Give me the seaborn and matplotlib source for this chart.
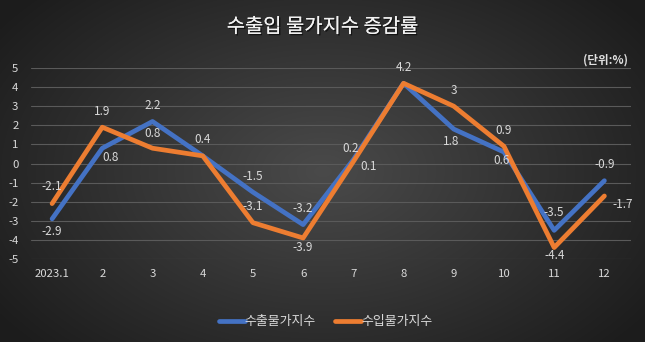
import numpy as np
import pandas as pd
import matplotlib
matplotlib.use("Agg")
import matplotlib.pyplot as plt
import matplotlib.patheffects as pe
import seaborn as sns

months = ["2023.1", "2", "3", "4", "5", "6", "7", "8", "9", "10", "11", "12"]
export_idx = [-2.9, 0.8, 2.2, 0.4, -1.5, -3.2, 0.2, 4.2, 1.8, 0.6, -3.5, -0.9]
import_idx = [-2.1, 1.9, 0.8, 0.4, -3.1, -3.9, 0.1, 4.2, 3.0, 0.9, -4.4, -1.7]
series_names = ["수출물가지수", "수입물가지수"]
yticks = [5, 4, 3, 2, 1, 0, -1, -2, -3, -4, -5]
title = "수출입 물가지수 증감률"
unit_text = "(단위:%)"

# label offsets in pixels (styling only)
exp_off = [(0, -13), (8, -9), (0, 16), (0, 16), (0, 16), (0, 16), (-3, 11),
           (0, 16), (-3, -12), (-2, -8), (0, 18), (0, 16)]
imp_off = [(0, 17), (0, 16), (0, 15), None, (0, 16), (0, -10), (15, -5),
           None, (0, 16), (0, 16), (0, -8), (18, -9)]

sns.set_theme(style="white")
plt.rcParams['font.family'] = ['Noto Sans CJK KR', 'DejaVu Sans']
plt.rcParams['axes.unicode_minus'] = False

W, H = 645, 342
fig = plt.figure(figsize=(W / 100, H / 100), dpi=100)

# radial gradient background
bg = fig.add_axes([0, 0, 1, 1], zorder=-10)
yy, xx = np.mgrid[0:H, 0:W]
r = np.sqrt(((xx - W * 0.5) / (W * 0.62)) ** 2 + ((yy - H * 0.5) / (H * 0.75)) ** 2)
r = np.clip(r, 0, 1)
c_in = np.array([0x4a, 0x4a, 0x4a]) / 255
c_out = np.array([0x1c, 0x1c, 0x1c]) / 255
img = c_in[None, None, :] * (1 - r[..., None]) + c_out[None, None, :] * r[..., None]
bg.imshow(img, aspect="auto", extent=[0, 1, 0, 1])
bg.axis("off")

ax = fig.add_axes([31 / W, 1 - 259 / H, 600 / W, 191 / H])
ax.set_facecolor("none")

df = pd.DataFrame({
    "month": months * 2,
    "value": export_idx + import_idx,
    "series": [series_names[0]] * len(months) + [series_names[1]] * len(months),
})
palette = {series_names[0]: "#4472C4", series_names[1]: "#ED7D31"}
sns.lineplot(data=df, x="month", y="value", hue="series", palette=palette,
             linewidth=3.4, ax=ax, sort=False, legend=True)

for vals, offs in [(export_idx, exp_off), (import_idx, imp_off)]:
    for i, (m, v) in enumerate(zip(months, vals)):
        if offs[i] is None:
            continue
        ax.annotate(f"{v:g}", xy=(i, v), xytext=offs[i], textcoords="offset pixels",
                    ha="center", va="center", fontsize=8.5, color="#d9d9d9")

ax.set_ylim(-5, 5)
ax.set_xlim(-0.42, 11.53)
ax.set_yticks(yticks)
ax.set_yticklabels([str(t) for t in yticks])
ax.grid(axis="y", color="#5a5a5a", linewidth=0.8)
ax.grid(axis="x", visible=False)
for s in ax.spines.values():
    s.set_visible(False)
ax.tick_params(axis="both", colors="#d9d9d9", labelsize=8.2, length=0)
ax.tick_params(axis="y", pad=9)
ax.tick_params(axis="x", pad=7)
ax.set_xlabel("")
ax.set_ylabel("")

handles, labels = ax.get_legend_handles_labels()
ax.legend(handles, labels, loc="center", bbox_to_anchor=(0.505, 1 - 322 / H),
          bbox_transform=fig.transFigure, ncol=2, frameon=False,
          labelcolor="#d9d9d9", fontsize=9.3, handlelength=2.0,
          handletextpad=0.0, columnspacing=1.5)

fig.text(0.5, 1 - 27 / H, title, ha="center", va="center", fontsize=14.3,
         color="#f2f2f2",
         path_effects=[pe.withSimplePatchShadow(offset=(1, -1), shadow_rgbFace="#000000", alpha=0.6),
                       pe.Normal()])
fig.text(605 / W, 1 - 60 / H, unit_text, ha="center", va="center",
         fontsize=8.3, color="#e0e0e0", fontweight="bold")

fig.savefig("out.png", dpi=100)
